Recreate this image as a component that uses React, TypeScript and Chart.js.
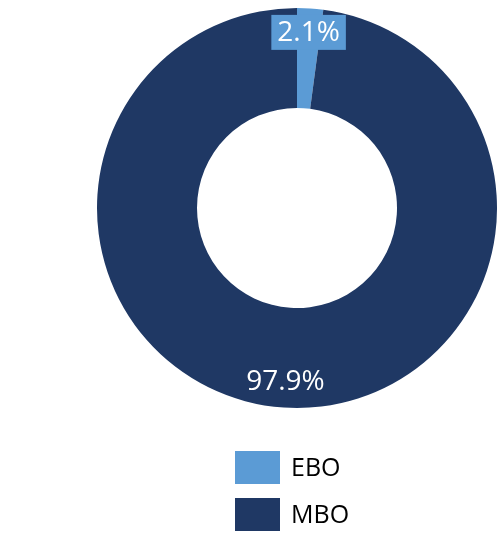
import React, { useEffect, useRef } from "react";
import { Chart, registerables } from "chart.js";

Chart.register(...registerables);

const categories = ["EBO", "MBO"];
const values = [2.1, 97.9];
const valueLabels = ["2.1%", "97.9%"];
const colors = ["#5B9BD5", "#1F3864"];
const labelBoxes = [true, false];

const FONT = "'Open Sans', 'Noto Sans', sans-serif";

const labelPlugin = {
  id: "sliceLabels",
  afterDatasetsDraw(chart: any) {
    const ctx = chart.ctx;
    const meta = chart.getDatasetMeta(0);
    ctx.save();
    ctx.font = `28px ${FONT}`;
    ctx.textAlign = "center";
    ctx.textBaseline = "middle";
    meta.data.forEach((arc: any, i: number) => {
      const p = arc.getProps(["x", "y", "startAngle", "endAngle", "innerRadius", "outerRadius"], true);
      const mid = (p.startAngle + p.endAngle) / 2;
      const r = p.innerRadius + 0.76 * (p.outerRadius - p.innerRadius);
      const x = p.x + Math.cos(mid) * r;
      const y = p.y + Math.sin(mid) * r;
      const text = valueLabels[i];
      const w = ctx.measureText(text).width;
      const padX = 6;
      const h = 35;
      if (labelBoxes[i]) {
        ctx.fillStyle = colors[i];
        ctx.fillRect(x - w / 2 - padX, y - h / 2, w + padX * 2, h);
      }
      ctx.fillStyle = "#FFFFFF";
      ctx.fillText(text, x, i === 1 ? y - 2 : y + 1);
    });
    ctx.restore();
  },
};

const legendPlugin = {
  id: "vertLegend",
  afterDraw(chart: any) {
    const ctx = chart.ctx;
    ctx.save();
    ctx.font = `25px ${FONT}`;
    ctx.textAlign = "left";
    ctx.textBaseline = "middle";
    const boxX = 235;
    const boxW = 45;
    const boxH = 33;
    const startY = 451;
    const step = 47;
    chart.data.labels.forEach((lab: string, i: number) => {
      const y = startY + i * step;
      ctx.fillStyle = colors[i];
      ctx.fillRect(boxX, y, boxW, boxH);
      ctx.fillStyle = "#000000";
      ctx.fillText(lab, 291, y + boxH / 2 + 1);
    });
    ctx.restore();
  },
};

export default function App() {
  const ref = useRef<HTMLCanvasElement | null>(null);
  useEffect(() => {
    if (!ref.current) return;
    const chart = new Chart(ref.current, {
      type: "doughnut",
      data: {
        labels: categories,
        datasets: [
          {
            data: values,
            backgroundColor: colors,
            borderWidth: 0,
            hoverOffset: 0,
          },
        ],
      },
      options: {
        responsive: false,
        animation: false,
        cutout: "50%",
        layout: { padding: { left: 97, right: 0, top: 8, bottom: 140 } },
        plugins: {
          legend: { display: false },
          tooltip: { enabled: false },
        },
      },
      plugins: [labelPlugin, legendPlugin],
    });
    return () => chart.destroy();
  }, []);
  return (
    <div style={{ position: "fixed", left: 0, top: 0, width: 497, height: 548, background: "#fff" }}>
      <canvas ref={ref} width={497} height={548} style={{ width: 497, height: 548 }} />
    </div>
  );
}
